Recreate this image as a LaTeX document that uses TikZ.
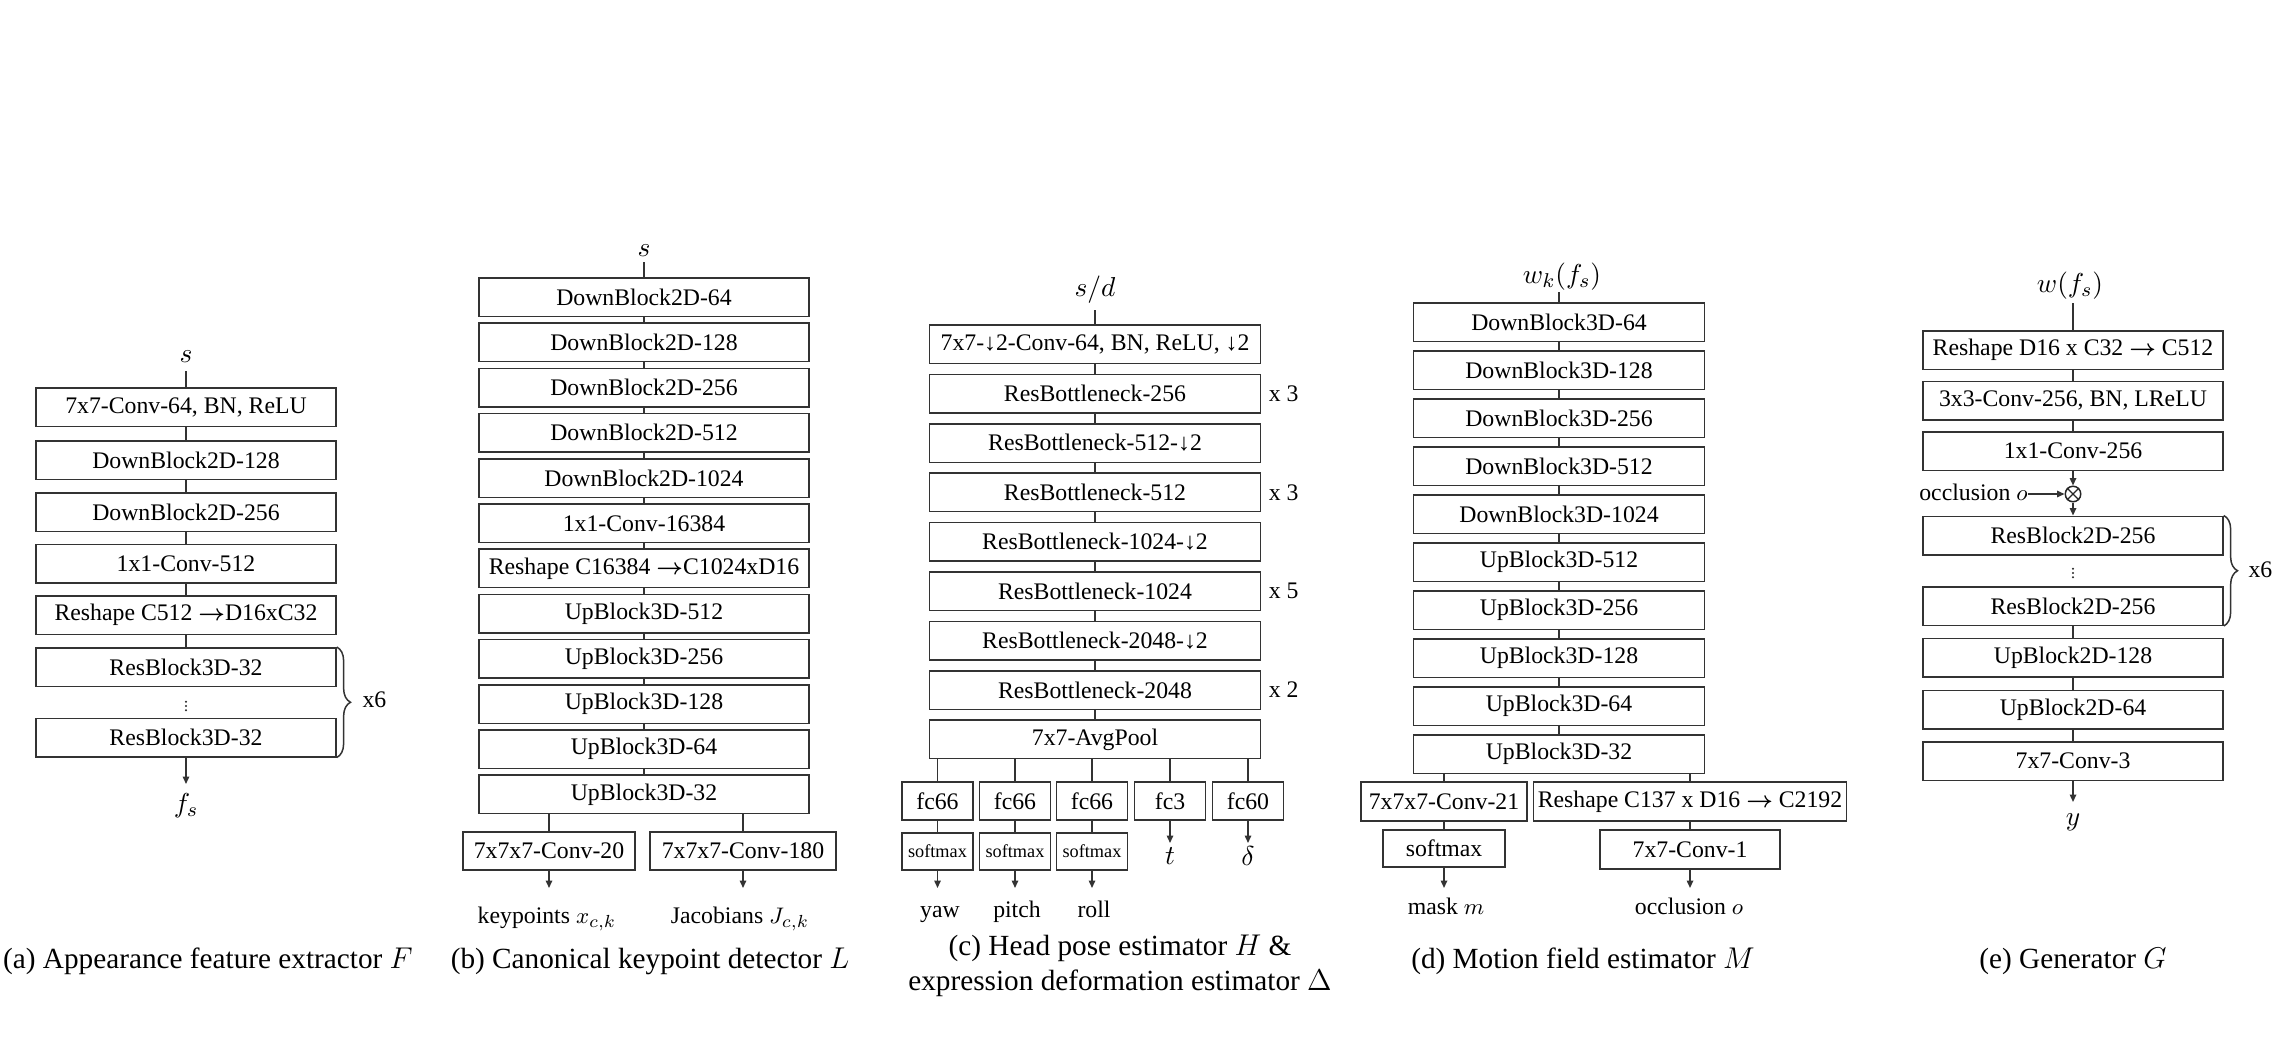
\documentclass[tikz,border=0pt]{standalone}
\usepackage{fontspec}
\setmainfont{Liberation Serif}
\usetikzlibrary{arrows.meta,decorations.pathreplacing,positioning}
\newcommand{\myrarr}{{\boldmath$\rightarrow$}}
\newcommand{\mydarr}{↓}
\begin{document}
\begin{tikzpicture}[x=0.4pt,y=-0.4pt,
  bx/.style={draw=black!80, line width=0.6pt, inner sep=0pt, minimum height=15.4pt, font=\fontsize{9.5}{11}\selectfont},
  ba/.style={bx, minimum width=120pt},
  bb/.style={bx, minimum width=132pt},
  bc/.style={bx, minimum width=132.4pt},
  bd/.style={bx, minimum width=116.4pt},
  be/.style={bx, minimum width=120pt},
  fcb/.style={bx, minimum width=28.4pt, minimum height=15.2pt},
  smb/.style={bx, minimum width=28.4pt, minimum height=14.8pt, font=\fontsize{7.3}{9}\selectfont},
  conn/.style={draw=black!80, line width=0.6pt},
  arr/.style={conn, -{Triangle[length=3pt,width=2.6pt]}},
  lab/.style={anchor=base, inner sep=0pt, font=\fontsize{9.5}{11}\selectfont},
  mlab/.style={anchor=base, inner sep=0pt, font=\fontsize{11}{13}\selectfont},
  xl/.style={anchor=west, inner sep=0pt, font=\fontsize{9.5}{11}\selectfont},
  captxt/.style={anchor=base, inner sep=0pt, font=\fontsize{11.7}{14}\selectfont},
  brc/.style={conn, decorate, decoration={brace, amplitude=5.5pt}},
  dotfill/.style={fill=black!85},
]
\useasboundingbox (0,0) rectangle (2278,1059);

% ---------------- (a) ----------------
\node[mlab] (as) at (186,362) {$s$};
\coordinate (ain) at (186,371);
\node[ba] (a1) at (186,407) {7x7-Conv-64, BN, ReLU};
\node[ba] (a2) at (186,460) {DownBlock2D-128};
\node[ba] (a3) at (186,512) {DownBlock2D-256};
\node[ba] (a4) at (186,563.5) {1x1-Conv-512};
\node[ba] (a5) at (186,615) {Reshape C512 \myrarr D16xC32};
\node[ba] (a6) at (186,667) {ResBlock3D-32};
\node[ba] (a7) at (186,737.5) {ResBlock3D-32};
\foreach \yy in {701.7,706,710.3} \fill[dotfill] (186,\yy) circle (0.45pt);
\coordinate (aout) at (186,784);
\node[mlab] (afs) at (186,812) {$f_s$};
\draw[conn] (ain) -- (a1);
\draw[conn] (a1) -- (a2);
\draw[conn] (a2) -- (a3);
\draw[conn] (a3) -- (a4);
\draw[conn] (a4) -- (a5);
\draw[conn] (a5) -- (a6);
\draw[arr] (a7) -- (aout);
\draw[brc] (a6.north east) -- (a7.south east);
\node[xl] (ax6) at (362,700) {x6};
\node[captxt] (capa) at (208,968) {(a) Appearance feature extractor $F$};

% ---------------- (b) ----------------
\node[mlab] (bs) at (644,256) {$s$};
\coordinate (bin) at (644,262);
\node[bb] (b1) at (644,297.25) {DownBlock2D-64};
\node[bb] (b2) at (644,342.45) {DownBlock2D-128};
\node[bb] (b3) at (644,387.65) {DownBlock2D-256};
\node[bb] (b4) at (644,432.85) {DownBlock2D-512};
\node[bb] (b5) at (644,478.05) {DownBlock2D-1024};
\node[bb] (b6) at (644,523.25) {1x1-Conv-16384};
\node[bb] (b7) at (644,568.45) {Reshape C16384 \myrarr C1024xD16};
\node[bb] (b8) at (644,613.65) {UpBlock3D-512};
\node[bb] (b9) at (644,658.85) {UpBlock3D-256};
\node[bb] (b10) at (644,704.05) {UpBlock3D-128};
\node[bb] (b11) at (644,749.25) {UpBlock3D-64};
\node[bb] (b12) at (644,794.45) {UpBlock3D-32};
\draw[conn] (bin) -- (b1);
\draw[conn] (b1) -- (b2);
\draw[conn] (b2) -- (b3);
\draw[conn] (b3) -- (b4);
\draw[conn] (b4) -- (b5);
\draw[conn] (b5) -- (b6);
\draw[conn] (b6) -- (b7);
\draw[conn] (b7) -- (b8);
\draw[conn] (b8) -- (b9);
\draw[conn] (b9) -- (b10);
\draw[conn] (b10) -- (b11);
\draw[conn] (b11) -- (b12);
\node[bx, minimum width=68.8pt, minimum height=15.2pt] (bl) at (549,851) {7x7x7-Conv-20};
\node[bx, minimum width=74.4pt, minimum height=15.2pt] (br) at (743,851) {7x7x7-Conv-180};
\draw[conn] (b12.south -| bl) -- (bl);
\draw[conn] (b12.south -| br) -- (br);
\coordinate (blo) at (549,888);
\coordinate (bro) at (743,888);
\draw[arr] (bl) -- (blo);
\draw[arr] (br) -- (bro);
\node[lab] (bkp) at (547,923) {keypoints $x_{c,k}$};
\node[lab] (bjac) at (740,923) {Jacobians $J_{c,k}$};
\node[captxt] (capb) at (650,968) {(b) Canonical keypoint detector $L$};

% ---------------- (c) ----------------
\node[mlab] (csd) at (1095,296) {$s/d$};
\coordinate (cin) at (1095,310);
\node[bc] (c1) at (1095,344.25) {7x7-\mydarr2-Conv-64, BN, ReLU, \mydarr2};
\node[bc] (c2) at (1095,393.65) {ResBottleneck-256};
\node[bc] (c3) at (1095,443.05) {ResBottleneck-512-\mydarr2};
\node[bc] (c4) at (1095,492.45) {ResBottleneck-512};
\node[bc] (c5) at (1095,541.85) {ResBottleneck-1024-\mydarr2};
\node[bc] (c6) at (1095,591.25) {ResBottleneck-1024};
\node[bc] (c7) at (1095,640.65) {ResBottleneck-2048-\mydarr2};
\node[bc] (c8) at (1095,690.05) {ResBottleneck-2048};
\node[bc] (c9) at (1095,739.45) {7x7-AvgPool};
\draw[conn] (cin) -- (c1);
\draw[conn] (c1) -- (c2);
\draw[conn] (c2) -- (c3);
\draw[conn] (c3) -- (c4);
\draw[conn] (c4) -- (c5);
\draw[conn] (c5) -- (c6);
\draw[conn] (c6) -- (c7);
\draw[conn] (c7) -- (c8);
\draw[conn] (c8) -- (c9);
\node[xl, right=2.8pt of c2] (cx2) {x 3};
\node[xl, right=2.8pt of c4] (cx4) {x 3};
\node[xl, right=2.8pt of c6] (cx6) {x 5};
\node[xl, right=2.8pt of c8] (cx8) {x 2};
\node[fcb] (f1) at (937.5,801) {fc66};
\node[fcb] (f2) at (1015,801) {fc66};
\node[fcb] (f3) at (1092,801) {fc66};
\node[fcb] (f4) at (1170,801) {fc3};
\node[fcb] (f5) at (1248,801) {fc60};
\foreach \n in {f1,f2,f3,f4,f5} \draw[conn] (c9.south -| \n) -- (\n);
\node[smb] (sm1) at (937.5,851.5) {softmax};
\node[smb] (sm2) at (1015,851.5) {softmax};
\node[smb] (sm3) at (1092,851.5) {softmax};
\draw[conn] (f1) -- (sm1);
\draw[conn] (f2) -- (sm2);
\draw[conn] (f3) -- (sm3);
\coordinate (yawt) at (937.5,888);
\coordinate (pitcht) at (1015,888);
\coordinate (rollt) at (1092,888);
\coordinate (tt) at (1170,843);
\coordinate (deltat) at (1248,843);
\draw[arr] (sm1) -- (yawt);
\draw[arr] (sm2) -- (pitcht);
\draw[arr] (sm3) -- (rollt);
\draw[arr] (f4) -- (tt);
\draw[arr] (f5) -- (deltat);
\node[lab] (cyaw) at (940,917) {yaw};
\node[lab] (cpitch) at (1017,917) {pitch};
\node[lab] (croll) at (1094,917) {roll};
\node[mlab] (ct) at (1170,864) {$t$};
\node[mlab] (cdelta) at (1248,865) {$\delta$};
\node[captxt] (capc1) at (1120,955) {(c) Head pose estimator $H$ \&};
\node[captxt] (capc2) at (1120,990) {expression deformation estimator $\Delta$};

% ---------------- (d) ----------------
\node[mlab] (dw) at (1562,283) {$w_k(f_s)$};
\coordinate (din) at (1559,292);
\node[bd] (d1) at (1559,322.25) {DownBlock3D-64};
\node[bd] (d2) at (1559,370.25) {DownBlock3D-128};
\node[bd] (d3) at (1559,418.25) {DownBlock3D-256};
\node[bd] (d4) at (1559,466.25) {DownBlock3D-512};
\node[bd] (d5) at (1559,514.25) {DownBlock3D-1024};
\node[bd] (d6) at (1559,562.25) {UpBlock3D-512};
\node[bd] (d7) at (1559,610.25) {UpBlock3D-256};
\node[bd] (d8) at (1559,658.25) {UpBlock3D-128};
\node[bd] (d9) at (1559,706.25) {UpBlock3D-64};
\node[bd] (d10) at (1559,754.25) {UpBlock3D-32};
\draw[conn] (din) -- (d1);
\draw[conn] (d1) -- (d2);
\draw[conn] (d2) -- (d3);
\draw[conn] (d3) -- (d4);
\draw[conn] (d4) -- (d5);
\draw[conn] (d5) -- (d6);
\draw[conn] (d6) -- (d7);
\draw[conn] (d7) -- (d8);
\draw[conn] (d8) -- (d9);
\draw[conn] (d9) -- (d10);
\node[bx, minimum width=66.4pt, minimum height=15.6pt] (dl) at (1444,801.5) {7x7x7-Conv-21};
\node[bx, minimum width=125.2pt, minimum height=15.6pt] (dr) at (1690,801.5) {Reshape C137 x D16 \myrarr{} C2192};
\node[bx, minimum width=48.8pt, minimum height=14.8pt] (dsm) at (1444,848.5) {softmax};
\node[bx, minimum width=72pt, minimum height=15.6pt] (dc1) at (1690,849.5) {7x7-Conv-1};
\draw[conn] (d10.south -| dl) -- (dl);
\draw[conn] (d10.south -| dr) -- (dr);
\draw[conn] (dl) -- (dsm);
\draw[conn] (dr) -- (dc1);
\coordinate (dmo) at (1444,888);
\coordinate (doo) at (1690,888);
\draw[arr] (dsm) -- (dmo);
\draw[arr] (dc1) -- (doo);
\node[lab] (dmask) at (1446,914) {mask $m$};
\node[lab] (docc) at (1689,914) {occlusion $o$};
\node[captxt] (capd) at (1583,968) {(d) Motion field estimator $M$};

% ---------------- (e) ----------------
\node[mlab] (ew) at (2070,292) {$w(f_s)$};
\coordinate (ein) at (2073,303);
\node[be] (e1) at (2073,350) {Reshape D16 x C32 \myrarr{} C512};
\node[be] (e2) at (2073,400.5) {3x3-Conv-256, BN, LReLU};
\node[be] (e3) at (2073,451) {1x1-Conv-256};
\node[draw=black!85, line width=0.6pt, circle, inner sep=0pt, minimum size=6.2pt] (ot) at (2073,494) {};
\draw[line width=0.5pt, black!85] (ot.north west) -- (ot.south east) (ot.north east) -- (ot.south west);
\node[be] (e4) at (2073,535.5) {ResBlock2D-256};
\foreach \yy in {568.7,573,577.3} \fill[dotfill] (2073,\yy) circle (0.45pt);
\node[be] (e5) at (2073,606) {ResBlock2D-256};
\node[be] (e6) at (2073,657.5) {UpBlock2D-128};
\node[be] (e7) at (2073,709.5) {UpBlock2D-64};
\node[be] (e8) at (2073,761) {7x7-Conv-3};
\draw[conn] (ein) -- (e1);
\draw[conn] (e1) -- (e2);
\draw[conn] (e2) -- (e3);
\draw[arr] (e3) -- (ot);
\draw[arr] (ot) -- (e4);
\node[lab, anchor=base east] (eocc) at (2028,500) {occlusion $o$};
\draw[arr] (eocc.east |- ot) -- (ot);
\draw[conn] (e5) -- (e6);
\draw[conn] (e6) -- (e7);
\draw[conn] (e7) -- (e8);
\coordinate (eout) at (2073,802);
\draw[arr] (e8) -- (eout);
\node[mlab] (ey) at (2073,825) {$y$};
\draw[brc] (e4.north east) -- (e5.south east);
\node[xl] (ex6) at (2248,570) {x6};
\node[captxt] (cape) at (2073,968) {(e) Generator $G$};
\end{tikzpicture}
\end{document}
